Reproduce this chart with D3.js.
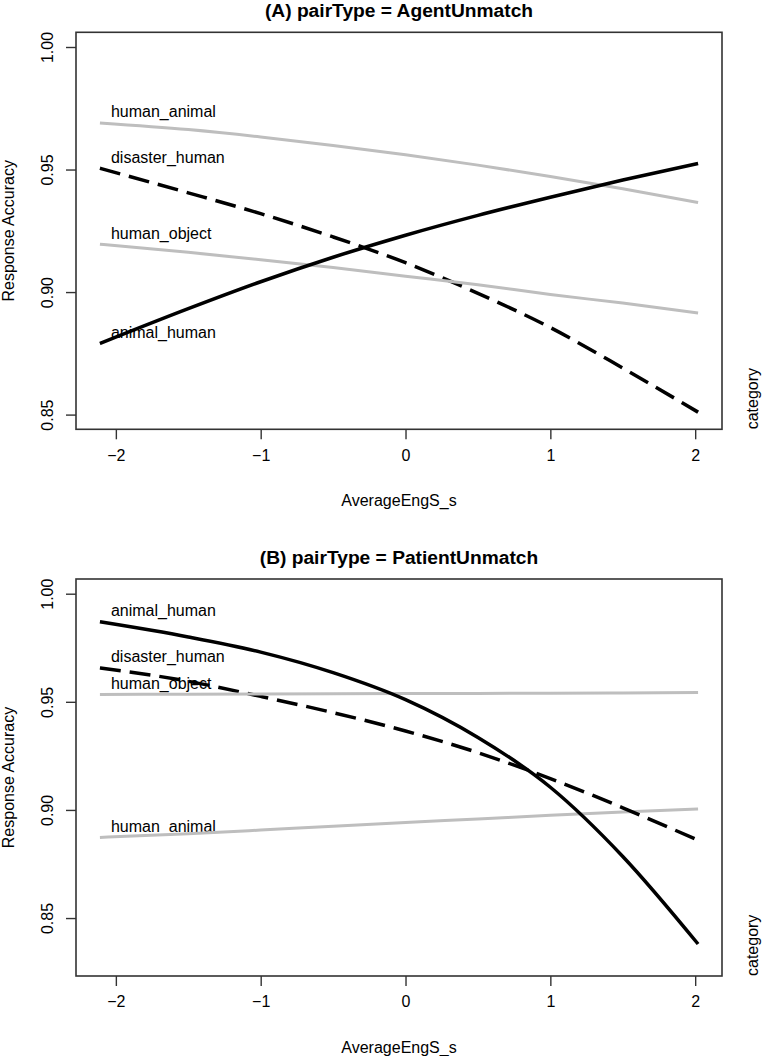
<!DOCTYPE html>
<html>
<head>
<meta charset="utf-8">
<script src="https://cdn.jsdelivr.net/npm/d3@7"></script>
<style>
  html, body { margin: 0; padding: 0; background: #fff; }
  svg { display: block; font-family: 'Liberation Sans', Arial, Helvetica, sans-serif; }
</style>
</head>
<body>
<div id="chart"></div>
<script>
const xGrid = [-2.11, -1.5, -1, -0.5, 0, 0.5, 1, 1.5, 2.02];

const categories = ['human_animal', 'disaster_human', 'human_object', 'animal_human'];

// (A) pairType = AgentUnmatch
const agentHumanAnimal   = [0.969, 0.9663, 0.9633, 0.9598, 0.956, 0.9518, 0.9472, 0.9422, 0.9365];
const agentDisasterHuman = [0.9505, 0.9405, 0.932, 0.9225, 0.912, 0.8995, 0.8855, 0.869, 0.851];
const agentHumanObject   = [0.9195, 0.9162, 0.9132, 0.910, 0.9065, 0.903, 0.899, 0.8955, 0.8915];
const agentAnimalHuman   = [0.879, 0.8932, 0.9042, 0.9142, 0.9232, 0.9313, 0.9387, 0.9457, 0.9525];

// (B) pairType = PatientUnmatch
const patientHumanAnimal   = [0.8873, 0.889, 0.8907, 0.8925, 0.8942, 0.8958, 0.8975, 0.899, 0.9004];
const patientDisasterHuman = [0.9657, 0.9595, 0.9525, 0.945, 0.9365, 0.9265, 0.9145, 0.901, 0.886];
const patientHumanObject   = [0.9534, 0.9535, 0.9536, 0.9537, 0.9538, 0.9539, 0.954, 0.9541, 0.9543];
const patientAnimalHuman   = [0.987, 0.980, 0.973, 0.9635, 0.951, 0.9335, 0.9105, 0.8785, 0.838];

const xTicks = [-2, -1, 0, 1, 2];
const yTicks = [0.85, 0.90, 0.95, 1.00];

const panels = [
  {
    title: '(A) pairType = AgentUnmatch',
    ylim: [0.85, 1.00],
    series: [agentHumanAnimal, agentDisasterHuman, agentHumanObject, agentAnimalHuman]
  },
  {
    title: '(B) pairType = PatientUnmatch',
    ylim: [0.83, 1.00],
    series: [patientHumanAnimal, patientDisasterHuman, patientHumanObject, patientAnimalHuman]
  }
];

const lineStyle = {
  human_animal:   { color: '#bebebe', width: 3,   dash: null },
  disaster_human: { color: '#000',    width: 3.5, dash: '21,9' },
  human_object:   { color: '#bebebe', width: 3,   dash: null },
  animal_human:   { color: '#000',    width: 3.5, dash: null }
};

const W = 762, H = 1056;
const boxLeft = 76, boxRight = 722, boxH = 397;
const boxTops = [32.3, 579];

const svg = d3.select('#chart').append('svg')
  .attr('width', W)
  .attr('height', H);

// R style 4% axis padding
const pad = (lo, hi) => { const d = (hi - lo) * 0.04; return [lo - d, hi + d]; };

const x = d3.scaleLinear()
  .domain(pad(d3.min(xGrid), d3.max(xGrid)))
  .range([boxLeft, boxRight]);

panels.forEach((p, i) => {
  const top = boxTops[i];
  const bottom = top + boxH;
  const y = d3.scaleLinear().domain(pad(p.ylim[0], p.ylim[1])).range([bottom, top]);
  const g = svg.append('g');

  // title
  g.append('text')
    .attr('x', (boxLeft + boxRight) / 2)
    .attr('y', top - 15.5)
    .attr('text-anchor', 'middle')
    .style('font-size', '19.2px')
    .style('font-weight', 'bold')
    .text(p.title);

  // labels first, lines are drawn over them
  p.series.forEach((vals, k) => {
    g.append('text')
      .attr('x', x(xGrid[0]) + 11)
      .attr('y', y(vals[0]) - 5.5)
      .style('font-size', '16px')
      .text(categories[k]);
  });

  const line = d3.line()
    .x((d, j) => x(xGrid[j]))
    .y(d => y(d))
    .curve(d3.curveMonotoneX);

  p.series.forEach((vals, k) => {
    const st = lineStyle[categories[k]];
    g.append('path')
      .datum(vals)
      .attr('d', line)
      .attr('fill', 'none')
      .attr('stroke', st.color)
      .attr('stroke-width', st.width)
      .attr('stroke-dasharray', st.dash);
  });

  // box
  g.append('rect')
    .attr('x', boxLeft).attr('y', top)
    .attr('width', boxRight - boxLeft).attr('height', boxH)
    .attr('fill', 'none')
    .attr('stroke', '#333')
    .attr('stroke-width', 1.6);

  // x axis
  const xAxis = g.append('g')
    .attr('transform', `translate(0,${bottom})`)
    .call(d3.axisBottom(x).tickValues(xTicks).tickSize(10).tickPadding(10)
      .tickFormat(d => d < 0 ? '\u2212' + Math.abs(d) : d));
  xAxis.select('.domain').remove();
  xAxis.selectAll('line').attr('stroke', '#333').attr('stroke-width', 1.4);
  xAxis.selectAll('text').style('font-size', '16px').attr('fill', '#000');

  // y axis
  const yAxis = g.append('g')
    .attr('transform', `translate(${boxLeft},0)`)
    .call(d3.axisLeft(y).tickValues(yTicks).tickSize(10).tickFormat(d3.format('.2f')));
  yAxis.select('.domain').remove();
  yAxis.selectAll('line').attr('stroke', '#333').attr('stroke-width', 1.4);
  yAxis.selectAll('text')
    .attr('x', null).attr('dy', null)
    .attr('transform', d => `translate(-29,0) rotate(-90)`)
    .attr('text-anchor', 'middle')
    .attr('dy', '0.35em')
    .style('font-size', '16px')
    .attr('fill', '#000');

  // axis titles
  g.append('text')
    .attr('x', (boxLeft + boxRight) / 2)
    .attr('y', bottom + 77)
    .attr('text-anchor', 'middle')
    .style('font-size', '16px')
    .text('AverageEngS_s');

  g.append('text')
    .attr('transform', `translate(8,${(top + bottom) / 2}) rotate(-90)`)
    .attr('text-anchor', 'middle')
    .attr('dy', '0.35em')
    .style('font-size', '16px')
    .text('Response Accuracy');

  g.append('text')
    .attr('transform', `translate(752,${bottom}) rotate(-90)`)
    .attr('text-anchor', 'start')
    .attr('dy', '0.35em')
    .style('font-size', '16px')
    .text('category');
});
</script>
</body>
</html>
